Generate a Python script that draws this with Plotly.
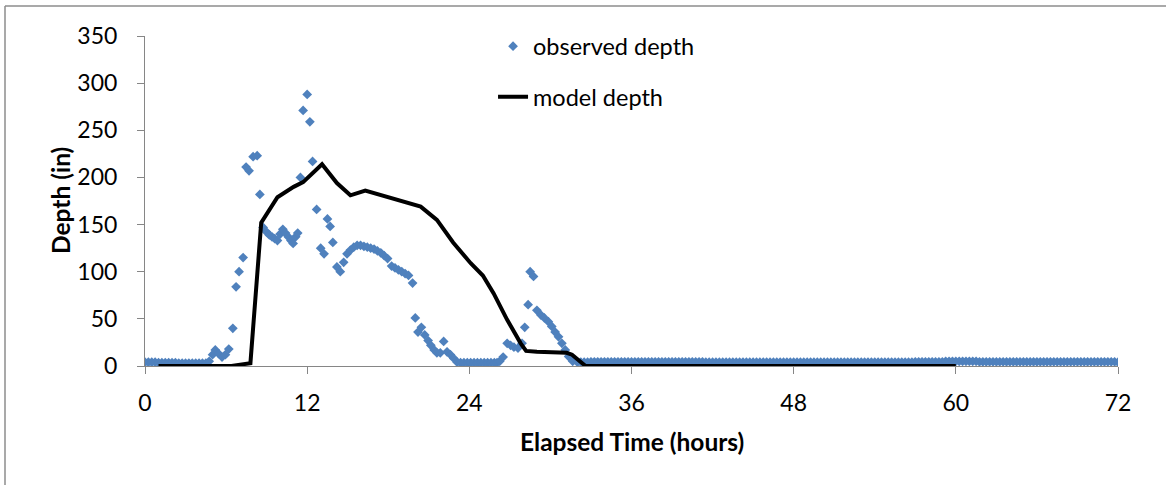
import plotly.graph_objects as go

# ---------------- data ----------------
obs_hours = [
    0, 0.25, 0.5, 0.75, 1, 1.25, 1.5, 1.75, 2, 2.25,
    2.5, 2.75, 3, 3.25, 3.5, 3.75, 4, 4.25, 4.5,
    4.75, 5.0, 5.2, 5.45, 5.7, 5.95, 6.2, 6.5, 6.74, 6.96,
    7.26, 7.48, 7.7, 8.0, 8.3, 8.5, 8.74, 9.0, 9.2, 9.4,
    9.6, 9.8, 10.0, 10.2, 10.4, 10.6, 10.8, 10.96, 11.15, 11.3,
    11.5, 11.7, 12.0, 12.2, 12.4, 12.7, 13.0, 13.25, 13.5, 13.7,
    13.9, 14.2, 14.45, 14.7, 14.95, 15.2, 15.45, 15.7, 15.95, 16.2,
    16.45, 16.7, 16.95, 17.2, 17.45, 17.7, 17.95, 18.25, 18.5, 18.75,
    19.0, 19.25, 19.5, 19.8, 20.0, 20.2, 20.45, 20.7, 20.95, 21.15,
    21.4, 21.6, 21.85, 22.1, 22.35, 22.6, 22.85, 23.1, 23.35, 23.6,
    23.85, 24.1, 24.35, 24.6, 24.85, 25.1, 25.35, 25.6, 25.85, 26.05,
    26.25, 26.5, 26.8, 27.05, 27.3, 27.6, 27.9, 28.1, 28.35, 28.5,
    28.75, 29.0, 29.3, 29.55, 29.85, 30.1, 30.35, 30.6, 30.85, 31.1,
    31.35, 31.65, 32.0,
    32.25, 32.5, 32.75, 33.0, 33.25, 33.5, 33.75, 34.0,
    34.25, 34.5, 34.75, 35.0, 35.25, 35.5, 35.75, 36.0,
    36.25, 36.5, 36.75, 37.0, 37.25, 37.5, 37.75, 38.0,
    38.25, 38.5, 38.75, 39.0, 39.25, 39.5, 39.75, 40.0,
    40.25, 40.5, 40.75, 41.0, 41.25, 41.5, 41.75, 42.0,
    42.25, 42.5, 42.75, 43.0, 43.25, 43.5, 43.75, 44.0,
    44.25, 44.5, 44.75, 45.0, 45.25, 45.5, 45.75, 46.0,
    46.25, 46.5, 46.75, 47.0, 47.25, 47.5, 47.75, 48.0,
    48.25, 48.5, 48.75, 49.0, 49.25, 49.5, 49.75, 50.0,
    50.25, 50.5, 50.75, 51.0, 51.25, 51.5, 51.75, 52.0,
    52.25, 52.5, 52.75, 53.0, 53.25, 53.5, 53.75, 54.0,
    54.25, 54.5, 54.75, 55.0, 55.25, 55.5, 55.75, 56.0,
    56.25, 56.5, 56.75, 57.0, 57.25, 57.5, 57.75, 58.0,
    58.25, 58.5, 58.75, 59.0, 59.25, 59.5, 59.75, 60.0,
    60.25, 60.5, 60.75, 61.0, 61.25, 61.5, 61.75, 62.0,
    62.25, 62.5, 62.75, 63.0, 63.25, 63.5, 63.75, 64.0,
    64.25, 64.5, 64.75, 65.0, 65.25, 65.5, 65.75, 66.0,
    66.25, 66.5, 66.75, 67.0, 67.25, 67.5, 67.75, 68.0,
    68.25, 68.5, 68.75, 69.0, 69.25, 69.5, 69.75, 70.0,
    70.25, 70.5, 70.75, 71.0, 71.25, 71.5, 71.75, 72.0,
]
obs_depth = [
    4, 4, 4, 4, 3.5, 3.5, 3.5, 3.5, 3.5, 3.5,
    3, 3, 3, 3, 3, 3, 3, 3, 3,
    5, 12, 17, 13, 9.5, 12, 18, 40, 84, 100,
    115, 211, 207, 222, 223, 182, 147, 142, 139, 137,
    135, 133, 140, 145, 141, 137, 133, 130, 137, 141,
    200, 271, 288, 259, 217, 166, 125, 119, 156, 148,
    131, 105, 100, 110, 119, 123, 126, 128, 128, 127,
    126, 125, 124, 122, 120, 117, 114, 106, 104, 102,
    100, 98, 96, 88, 51, 36, 41, 33, 27, 22,
    17, 14, 14, 26, 15, 12, 8, 4, 3.5, 3.5,
    3.5, 3.5, 3.5, 3.5, 3.5, 3.5, 3.5, 3.5, 3.5, 3.5,
    5, 9.5, 24, 22, 20, 19, 24, 41, 65, 100,
    95, 59, 54, 51, 47, 42, 36, 31, 24, 17,
    10, 5, 4,
    4, 4, 4, 4.5, 4.5, 4.5, 4.5, 4.5,
    4.5, 4.5, 4.5, 4.5, 4.5, 4.5, 4.5, 4.5,
    4.5, 4.5, 4.5, 4.5, 4.5, 4.5, 4.5, 4.5,
    4.5, 4.5, 4.5, 4.5, 4.5, 4.5, 4.5, 4.5,
    4.5, 4.5, 4.5, 4.5, 4.5, 4, 4, 4,
    4, 4, 4, 4, 4, 4, 4, 4,
    4, 4, 4, 4, 4, 4, 4, 4,
    4, 4, 4, 4, 4, 4, 4, 4,
    4, 4, 4, 4, 4, 4, 4, 4,
    4, 4, 4, 4, 4, 4, 4, 4,
    4, 4, 4, 4, 4, 4, 4, 4,
    4, 4, 4, 4, 4, 4, 4, 4,
    4, 4, 4, 4.5, 4.5, 4.5, 4.5, 4.5,
    4.5, 4.5, 4.5, 4.5, 5, 5, 5, 5,
    5, 5, 5, 5, 5, 5, 4.5, 4.5,
    4.5, 4.5, 4.5, 4.5, 4.5, 4.5, 4.5, 4.5,
    4.5, 4.5, 4.5, 4.5, 4.5, 4.5, 4.5, 4.5,
    4.5, 4.5, 4.5, 4.5, 4.5, 4.5, 4.5, 4.5,
    4.5, 4.5, 4.5, 4.5, 4.5, 4.5, 4.5, 4.5,
    4.5, 4.5, 4.5, 4.5, 4.5, 4.5, 4.5, 4,
]

model_hours = [1.0, 6.4, 7.8, 8.6, 9.8, 11.0, 11.7, 13.1, 14.2, 15.2,
               16.3, 17.5, 18.7, 20.4, 21.6, 22.8, 24.1, 25.0, 25.8, 26.8,
               27.8, 28.2, 29.0, 30.7, 31.2, 31.6, 32.6, 60.0]
model_depth = [0, 0, 3, 152, 179, 190, 195, 214, 194, 181,
               186, 181, 176, 169, 155, 131, 109, 96, 77, 49,
               24, 16, 15, 15, 14, 12, 0, 0]

x_ticks = [0, 12, 24, 36, 48, 60, 72]
y_ticks = [0, 50, 100, 150, 200, 250, 300, 350]

# ---------------- figure ----------------
FONT = "Lato"
AXIS_GREY = "#868686"

fig = go.Figure()
fig.add_trace(go.Scatter(
    x=obs_hours, y=obs_depth, mode="markers", name="observed depth",
    legendgroup="obs",
    marker=dict(symbol="diamond", size=7.5, color="#4F81BD"),
))
fig.add_trace(go.Scatter(
    x=model_hours, y=model_depth, mode="lines", name="model depth",
    legendgroup="model",
    line=dict(color="black", width=4),
))

fig.update_layout(
    width=1166, height=485,
    margin=dict(l=145, r=48, t=36, b=119),
    paper_bgcolor="white", plot_bgcolor="white",
    font=dict(family=FONT, size=23, color="black"),
    showlegend=True,
    legend=dict(x=0.3577, y=1.035, xanchor="left", yanchor="top",
                bgcolor="rgba(0,0,0,0)", tracegroupgap=17,
                font=dict(family=FONT, size=23.5)),
    xaxis=dict(range=[0, 72], tickvals=x_ticks, ticktext=[str(v) for v in x_ticks],
               showgrid=False, zeroline=False, showline=True, linecolor=AXIS_GREY,
               linewidth=1, ticks="outside", ticklen=7, tickcolor=AXIS_GREY,
               ticklabelstandoff=9, tickfont=dict(family=FONT, size=23)),
    yaxis=dict(range=[0, 350], tickvals=y_ticks, ticktext=[str(v) for v in y_ticks],
               showgrid=False, zeroline=False, showline=True, linecolor=AXIS_GREY,
               linewidth=1, ticks="outside", ticklen=7, tickcolor=AXIS_GREY,
               ticklabelstandoff=15, tickfont=dict(family=FONT, size=23)),
    annotations=[
        dict(text="<b>Depth (in)</b>", xref="paper", yref="paper",
             x=(60 - 145) / 973, y=0.5, xanchor="center", yanchor="middle",
             textangle=-90, showarrow=False, font=dict(family=FONT, size=24.5)),
        dict(text="<b>Elapsed Time (hours)</b>", xref="paper", yref="paper",
             x=0.5, y=(366 - 441) / 330, xanchor="center", yanchor="middle",
             showarrow=False, font=dict(family=FONT, size=24.5)),
    ],
    shapes=[
        dict(type="line", xref="paper", yref="paper",
             x0=(5 - 145) / 973, x1=(5 - 145) / 973,
             y0=(366 - 500) / 330, y1=(366 - 6) / 330,
             line=dict(color="#8c8c8c", width=1.5)),
        dict(type="line", xref="paper", yref="paper",
             x0=(5 - 145) / 973, x1=(1180 - 145) / 973,
             y0=(366 - 6) / 330, y1=(366 - 6) / 330,
             line=dict(color="#8c8c8c", width=1.5)),
    ],
)

fig.write_html("out.html")
